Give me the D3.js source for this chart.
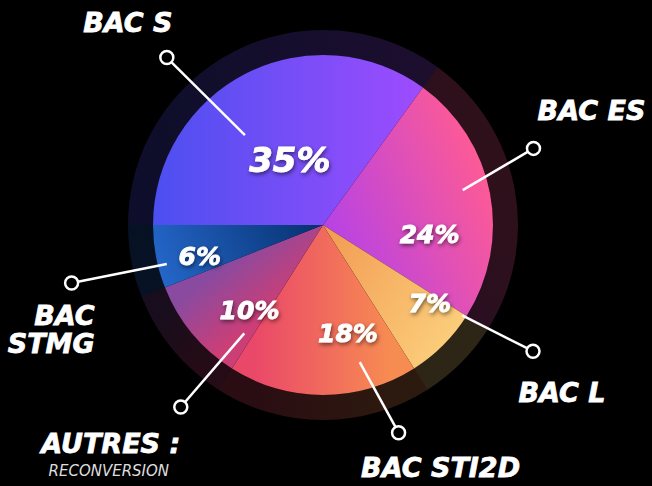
<!DOCTYPE html>
<html>
<head>
<meta charset="utf-8">
<script src="https://cdn.jsdelivr.net/npm/d3@7"></script>
<style>
html, body { margin: 0; padding: 0; background: #000; }
svg { display: block; }
</style>
</head>
<body>
<div id="chart"></div>
<script>
// data
var categories = ["BAC S", "BAC ES", "BAC L", "BAC STI2D", "AUTRES :", "BAC STMG"];
var values = [35, 24, 7, 18, 10, 6];
var pctLabels = ["35%", "24%", "7%", "18%", "10%", "6%"];
var subLabels = ["", "", "", "", "RECONVERSION", ""];

// colours: gradient start / end for each slice
var colorFrom = ["#4c4ff0", "#b642e6", "#f29a52", "#ea4868", "#8a4aa0", "#06306e"];
var colorTo   = ["#a94cff", "#fd5a96", "#fbcd7a", "#f78c52", "#cc3e76", "#2466c8"];

var width = 652, height = 486;
var cx = 323, cy = 225;
var radius = 170, ringOuter = 195;

// annotation layout (angles in degrees, clockwise from 12 o'clock)
var pctPos = [[-27, 73], [95, 107], [126, 132], [167, 111], [221, 112], [256, 127]];
var pctSize = [34, 25, 25, 25, 25, 25];
var leaders = [[-41, 119, -43, 229], [76, 144, 70, 224], [123, 166, 121, 245],
               [165, 142, 160, 221], [216, 134, 218, 231], [256, 161, 257, 258]];
var textOff = [
  {dx: -39, dy: -35, anchor: "middle"},
  {dx: 58, dy: -38, anchor: "middle"},
  {dx: 29, dy: 41, anchor: "middle"},
  {dx: 42, dy: 35, anchor: "middle"},
  {dx: -70, dy: 36, anchor: "middle"},
  {dx: 23, dy: 32, anchor: "end"}
];

var rad = Math.PI / 180;

var svg = d3.select("#chart").append("svg")
  .attr("width", width)
  .attr("height", height)
  .style("background", "#000");

var defs = svg.append("defs");

var shadow = defs.append("filter").attr("id", "shadow")
  .attr("x", "-30%").attr("y", "-30%").attr("width", "160%").attr("height", "160%");
shadow.append("feDropShadow")
  .attr("dx", 1).attr("dy", 2).attr("stdDeviation", 2)
  .attr("flood-color", "#000").attr("flood-opacity", 0.55);

var pie = d3.pie().sort(null).value(function(d) { return d; })
  .startAngle(-Math.PI / 2).endAngle(1.5 * Math.PI);
var arcs = pie(values);

var arc = d3.arc().innerRadius(0).outerRadius(radius);
var ring = d3.arc().innerRadius(radius).outerRadius(ringOuter);

// one gradient per slice, running across the slice
arcs.forEach(function(a, i) {
  var mid = (a.startAngle + a.endAngle) / 2;
  // default: from the end edge of the slice to its start edge
  var p0 = d3.pointRadial(a.endAngle - 0.1, radius * 0.9);
  var p1 = d3.pointRadial(a.startAngle + 0.1, radius * 0.9);
  if (i === 0) { p0 = [-radius, 0]; p1 = [radius * 0.8, 0]; }
  if (i === 1 || i === 2 || i === 5) { p0 = [0, 0]; p1 = d3.pointRadial(mid - 0.2, radius); }
  var g = defs.append("linearGradient").attr("id", "grad" + i)
    .attr("gradientUnits", "userSpaceOnUse")
    .attr("x1", p0[0]).attr("y1", p0[1])
    .attr("x2", p1[0]).attr("y2", p1[1]);
  g.append("stop").attr("offset", "0%").attr("stop-color", colorFrom[i]);
  g.append("stop").attr("offset", "100%").attr("stop-color", colorTo[i]);
});

var g = svg.append("g").attr("transform", "translate(" + cx + "," + cy + ")");

// dark outer ring, tinted with each slice colour
g.selectAll(".ring")
  .data(arcs)
  .enter().append("path")
  .attr("class", "ring")
  .attr("d", ring)
  .attr("fill", function(d, i) { return "url(#grad" + i + ")"; })
  .attr("fill-opacity", 0.18);

g.selectAll(".slice")
  .data(arcs)
  .enter().append("path")
  .attr("class", "slice")
  .attr("d", arc)
  .attr("fill", function(d, i) { return "url(#grad" + i + ")"; });

// percentage labels
g.selectAll(".pct")
  .data(arcs)
  .enter().append("text")
  .attr("class", "pct")
  .attr("transform", function(d, i) {
    var p = d3.pointRadial(pctPos[i][0] * rad, pctPos[i][1]);
    return "translate(" + p[0] + "," + p[1] + ")";
  })
  .attr("text-anchor", "middle")
  .attr("dy", "0.36em")
  .attr("filter", "url(#shadow)")
  .style("font-family", "DejaVu Sans")
  .style("font-weight", "bold")
  .style("font-style", "oblique")
  .style("font-size", function(d, i) { return pctSize[i] + "px"; })
  .attr("fill", "#fff")
  .attr("stroke", "#fff")
  .attr("stroke-width", 0.8)
  .text(function(d, i) { return pctLabels[i]; });

// leader lines with small rings at the end
leaders.forEach(function(l, i) {
  var a = d3.pointRadial(l[0] * rad, l[1]);
  var b = d3.pointRadial(l[2] * rad, l[3]);
  g.append("line")
    .attr("x1", a[0]).attr("y1", a[1])
    .attr("x2", b[0]).attr("y2", b[1])
    .attr("stroke", "#fff").attr("stroke-width", 2.5);
  g.append("circle")
    .attr("cx", b[0]).attr("cy", b[1]).attr("r", 6.5)
    .attr("fill", "#000")
    .attr("stroke", "#fff").attr("stroke-width", 2.5);

  var t = textOff[i];
  var words = categories[i] === "BAC STMG" ? ["BAC", "STMG"] : [categories[i]];
  var txt = g.append("text")
    .attr("text-anchor", t.anchor)
    .attr("fill", "#fff")
    .attr("stroke", "#fff")
    .attr("stroke-width", 0.8)
    .style("font-family", "DejaVu Sans")
    .style("font-weight", "bold")
    .style("font-style", "oblique")
    .style("font-size", "27px");
  words.forEach(function(w, k) {
    txt.append("tspan")
      .attr("x", b[0] + t.dx)
      .attr("y", b[1] + t.dy + k * 28)
      .attr("dy", "0.36em")
      .text(w);
  });
  if (subLabels[i]) {
    g.append("text")
      .attr("x", b[0] + t.dx - 2)
      .attr("y", b[1] + t.dy + 28)
      .attr("dy", "0.36em")
      .attr("text-anchor", "middle")
      .attr("fill", "#ddd")
      .style("font-family", "DejaVu Sans")
      .style("font-style", "oblique")
      .style("font-size", "15px")
      .text(subLabels[i]);
  }
});
</script>
</body>
</html>
